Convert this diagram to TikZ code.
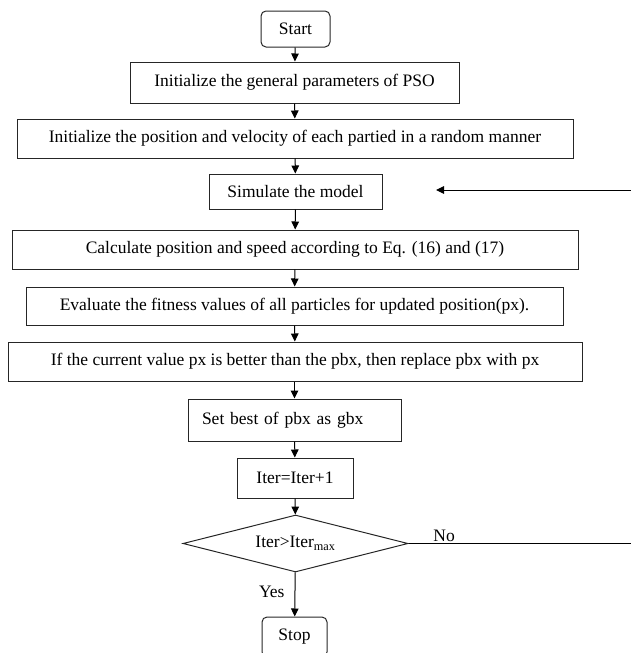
\documentclass[tikz,border=0pt]{standalone}
\usepackage{fontspec}
\setmainfont{Liberation Serif}
\usetikzlibrary{arrows.meta,shapes.geometric}
\begin{document}
\begin{tikzpicture}[x=1pt,y=-1pt,
  every node/.style={font=\fontsize{17.5}{20}\selectfont, inner sep=0pt},
  box/.style={draw=black!85, line width=1pt, rectangle},
  rbox/.style={box, rounded corners=5pt},
  dia/.style={draw=black!85, line width=1pt, diamond, shape aspect=3.95, inner sep=0pt},
  arr/.style={-{Triangle[length=8pt,width=7.5pt]}, line width=1pt},
  ln/.style={line width=1pt}]
\useasboundingbox (0,0) rectangle (631,653);
\clip (0,0) rectangle (631,653);
\node[rbox, minimum width=69, minimum height=36] (start) at (295.5,29) {Start};
\node[box, minimum width=329, minimum height=41] (b1) at (294.5,82.5) {Initialize the general parameters of PSO};
\node[box, minimum width=556, minimum height=39] (b2) at (295,138.5) {Initialize the position and velocity of each partied in a random manner};
\node[box, minimum width=173, minimum height=35] (sim) at (295.5,191.5) {Simulate the model};
\node[box, minimum width=566, minimum height=39] (calc) at (295,249.5) {Calculate position and speed according to Eq. (16) and (17)};
\node[box, minimum width=537, minimum height=38] (eval) at (294.5,306) {Evaluate the fitness values of all particles for updated position(px).};
\node[box, minimum width=574, minimum height=39] (ifb) at (295,361.5) {If the current value px is better than the pbx, then replace pbx with px};
\node[box, text width=185, inner xsep=14, align=left, minimum height=42] (setb) at (294.5,420) {Set best of pbx as gbx};
\node[box, minimum width=116, minimum height=40] (iter) at (295,478) {Iter=Iter+1};
\node[dia, minimum width=225, minimum height=57] (dec) at (295.5,543.5) {Iter>Iter\textsubscript{max}};
\node[rbox, minimum width=65, minimum height=40] (stop) at (294.5,637) {Stop};
\coordinate (fbs) at (631,190);
\coordinate (fbe) at (436,190);
\coordinate (noe) at (631,543.5);
\draw[arr] (start) -- (b1);
\draw[arr] (b1) -- (b2);
\draw[arr] (b2) -- (sim);
\draw[arr] (sim) -- (calc);
\draw[arr] (calc) -- (eval);
\draw[arr] (eval) -- (ifb);
\draw[arr] (ifb.south -| setb.north) -- (setb);
\draw[arr] (setb) -- (iter);
\draw[arr] (iter) -- (dec);
\draw[arr] (dec) -- node[left=10pt, pos=0.45] (yes) {Yes} (stop);
\draw[ln] (dec.east) -- node[above=1pt, pos=0.16] (no) {No} (noe);
\draw[arr] (fbs) -- (fbe);
\end{tikzpicture}
\end{document}
